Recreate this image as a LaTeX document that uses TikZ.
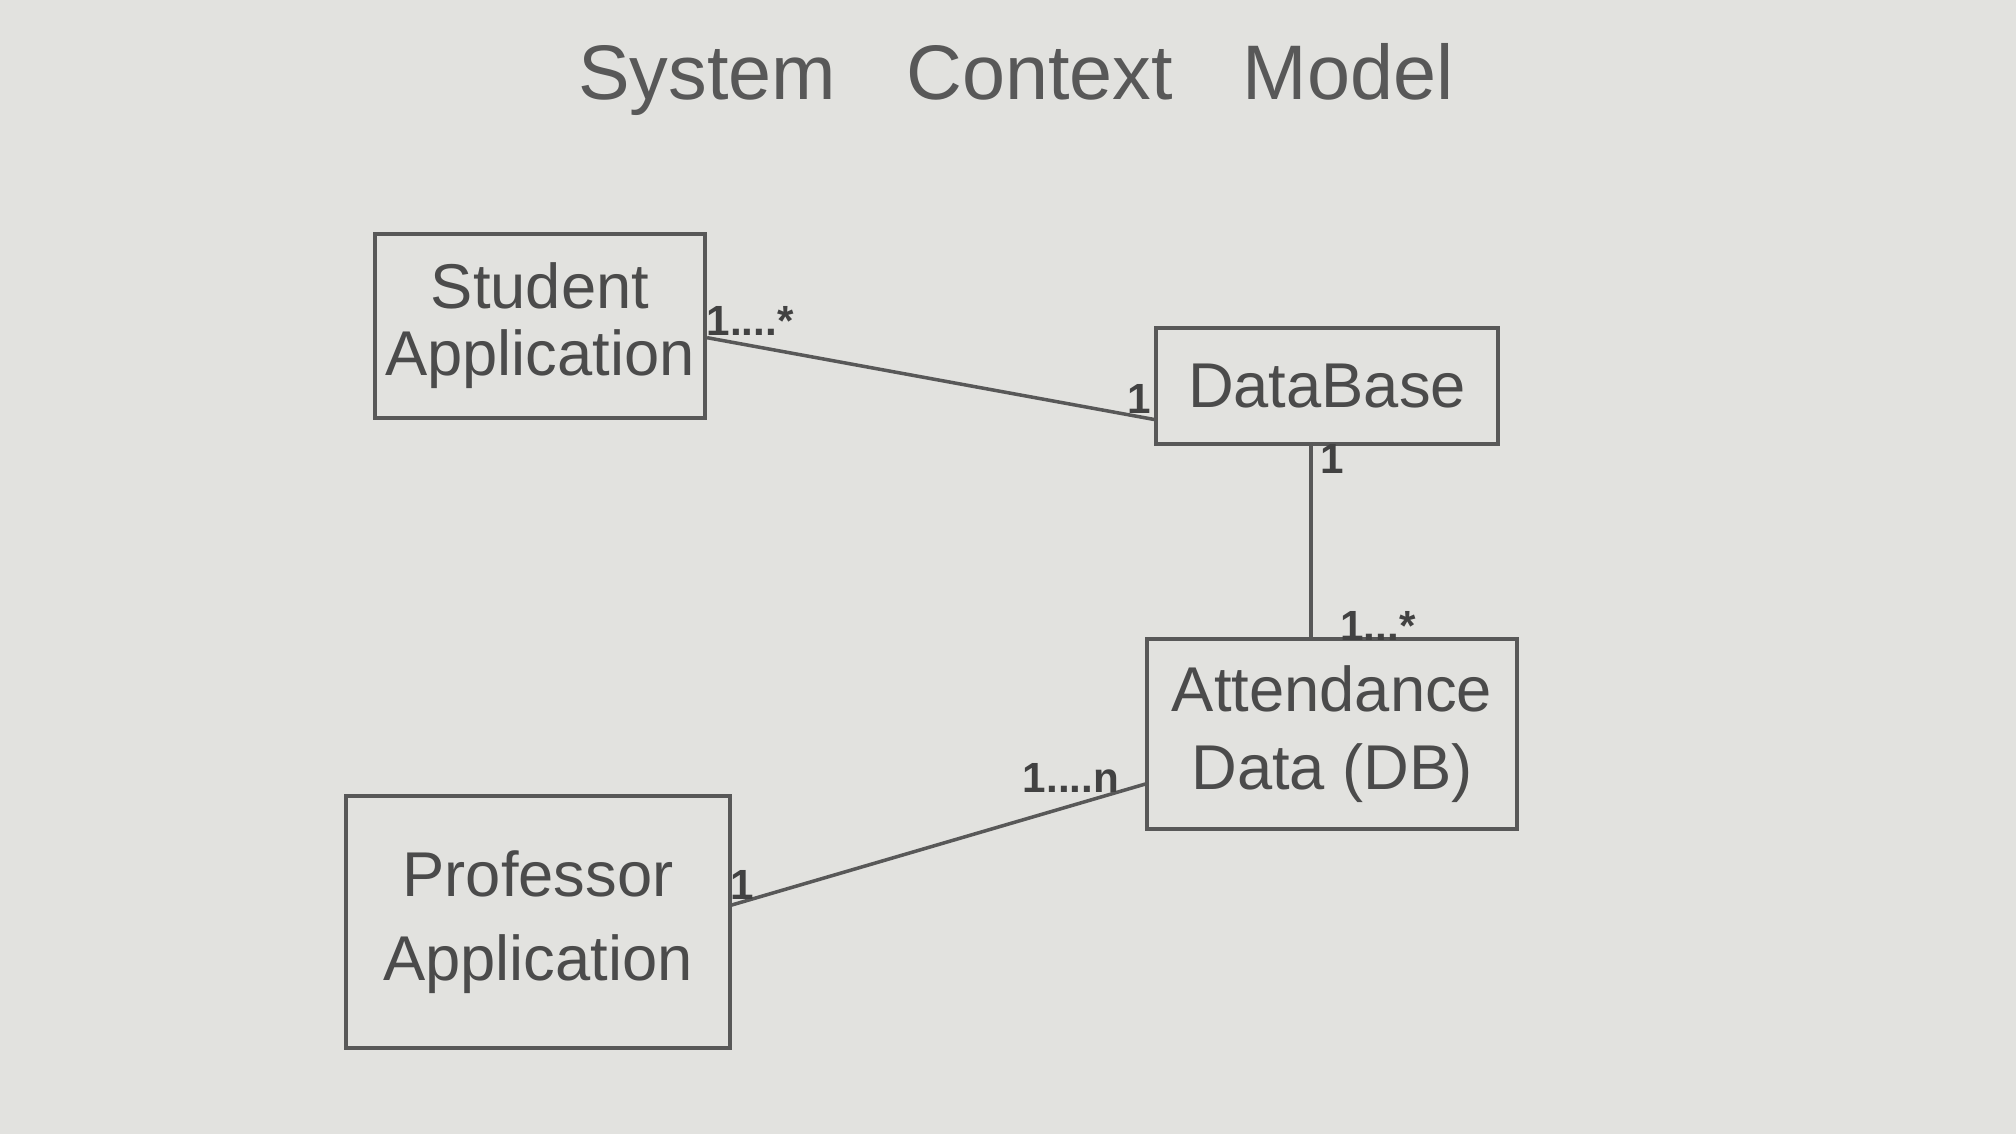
\documentclass[tikz,border=0pt]{standalone}
\usepackage{fontspec}
\setmainfont{Liberation Sans}
\definecolor{paper}{RGB}{226,226,223}
\definecolor{pencil}{RGB}{88,88,88}
\tikzset{
  box/.style={draw=pencil, line width=1.1pt, text=pencil!85!black, font=\fontsize{18}{22}\selectfont, align=center, inner sep=0pt},
  mult/.style={text=pencil!75!black, font=\fontsize{12}{14}\selectfont\bfseries, inner sep=0pt},
  link/.style={draw=pencil, line width=1pt}
}
\begin{document}
\begin{tikzpicture}[x=0.01cm,y=-0.01cm]
        \fill[paper] (0,0) rectangle (2016,1134);
        \useasboundingbox (0,0) rectangle (2016,1134);
        \node[font=\fontsize{22}{26}\selectfont, text=pencil] (title) at (1016,80) {System\hspace{0.7cm}Context\hspace{0.7cm}Model};
        \node[box, minimum width=3.3cm, minimum height=1.84cm, font=\fontsize{18}{19}\selectfont] (student) at (540,326) {Student\\Application};
        \node[box, minimum width=3.41cm, minimum height=1.16cm] (database) at (1327,386) {DataBase};
        \node[box, minimum width=3.69cm, minimum height=1.9cm] (attendance) at (1332,734) {Attendance\\Data (DB)};
        \node[box, minimum width=3.83cm, minimum height=2.51cm, font=\fontsize{18}{24}\selectfont] (professor) at (538,922) {Professor\\Application};
        \draw[link] (student.356) -- (database.191);
        \draw[link] ([xshift=-0.16cm]database.south) -- ([xshift=-0.16cm]database.south |- attendance.north);
        \draw[link] (professor.5) -- (attendance.195);
        \node[mult] (sa) at (750,321) {1....*};
        \node[mult] (dbl) at (1139,399) {1};
        \node[mult] (dbb) at (1332,459) {1};
        \node[mult] (adt) at (1378,626) {1...*};
        \node[mult] (adl) at (1071,778) {1....n};
        \node[mult] (pa) at (742,885) {1};
    \end{tikzpicture}
\end{document}
